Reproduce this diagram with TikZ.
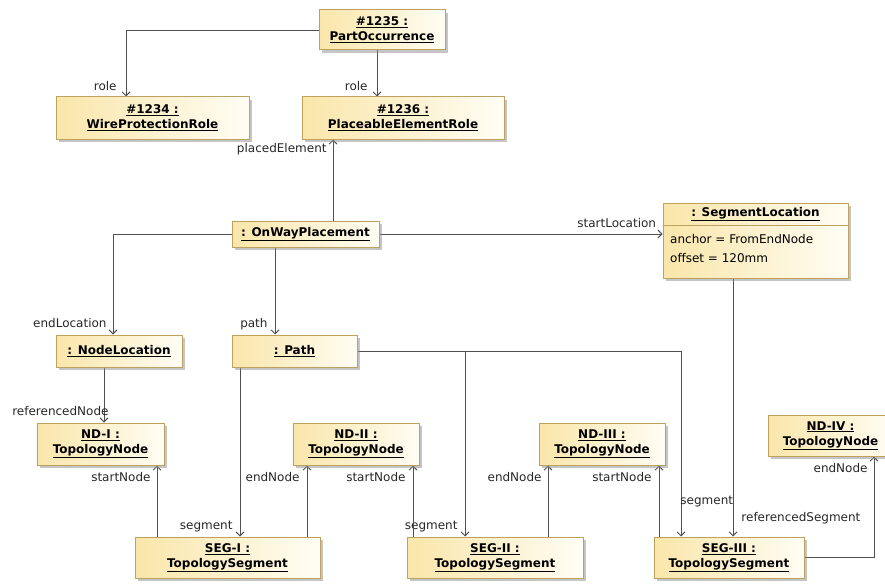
\documentclass[tikz,border=0pt]{standalone}
\usepackage{fontspec}
\setmainfont{DejaVu Sans}
\usepackage{tikz}
\usetikzlibrary{arrows.meta}
\usetikzlibrary{shadows}
\definecolor{cajaborde}{RGB}{190,160,95}
\definecolor{cajafondo}{RGB}{250,230,170}
\definecolor{cajafin}{RGB}{255,253,244}
\definecolor{linea}{RGB}{80,80,80}
\pgfdeclarelayer{lineas_layer}
\pgfsetlayers{lineas_layer,main}
\tikzstyle{objeto}=[draw=cajaborde,line width=1pt,left color=cajafondo,right color=cajafin,drop shadow={shadow xshift=3pt,shadow yshift=-3pt,fill=black!45,opacity=.5},font=\fontsize{12}{15}\selectfont\bfseries,align=center,inner sep=0pt]
\tikzstyle{etiqueta}=[font=\fontsize{12}{14}\selectfont,inner sep=0pt,text=black!85]
\tikzstyle{line}=[draw=linea,line width=0.9pt,-{Straight Barb[length=4pt,width=8pt]}]
\newcommand{\obj}[2]{\underline{#1}\\\underline{#2}}

\begin{document}
\begin{tikzpicture}[x=1pt,y=-1pt]
		\useasboundingbox (0,0) rectangle (885,583);
			\node [style=objeto, minimum width=126pt, minimum height=40pt] (po) at (382,30) {\obj{\#1235 :}{PartOccurrence}};
			\node [style=objeto, minimum width=193pt, minimum height=42pt] (wpr) at (152.5,118) {\obj{\#1234 :}{WireProtectionRole}};
			\node [style=objeto, minimum width=202pt, minimum height=42pt] (per) at (403,118) {\obj{\#1236 :}{PlaceableElementRole}};
			\node [style=objeto, minimum width=147pt, minimum height=26pt] (owp) at (305.5,234) {\underline{: OnWayPlacement}};
			\node [style=objeto, minimum width=185pt, minimum height=75pt] (sl) at (755.5,240.5) {};
			\node [style=etiqueta, font=\fontsize{12}{15}\selectfont\bfseries, text=black] (sl_titulo) at (755.5,214) {\underline{: SegmentLocation}};
			\draw [draw=cajaborde, line width=1pt] (sl.west |- 0,225) -- (sl.east |- 0,225);
			\node [style=etiqueta, anchor=base west, text=black] (sl_anchor) at (670,243) {anchor = FromEndNode};
			\node [style=etiqueta, anchor=base west, text=black] (sl_offset) at (670,262) {offset = 120mm};
			\node [style=objeto, minimum width=126pt, minimum height=32pt] (nl) at (119,351) {\underline{: NodeLocation}};
			\node [style=objeto, minimum width=125pt, minimum height=32pt] (path) at (294.5,351) {\underline{: Path}};
			\node [style=objeto, minimum width=127pt, minimum height=42pt] (nd1) at (100.5,444) {\obj{ND-I :}{TopologyNode}};
			\node [style=objeto, minimum width=126pt, minimum height=42pt] (nd2) at (356,444) {\obj{ND-II :}{TopologyNode}};
			\node [style=objeto, minimum width=126pt, minimum height=42pt] (nd3) at (602,444) {\obj{ND-III :}{TopologyNode}};
			\node [style=objeto, minimum width=125pt, minimum height=41pt] (nd4) at (830.5,435.5) {\obj{ND-IV :}{TopologyNode}};
			\node [style=objeto, minimum width=185pt, minimum height=41pt] (seg1) at (227.5,557.5) {\obj{SEG-I :}{TopologySegment}};
			\node [style=objeto, minimum width=176pt, minimum height=41pt] (seg2) at (495,557.5) {\obj{SEG-II :}{TopologySegment}};
			\node [style=objeto, minimum width=150pt, minimum height=41pt] (seg3) at (729,557.5) {\obj{SEG-III :}{TopologySegment}};
		\begin{pgfonlayer}{lineas_layer}
			 \path [style=line] (po) -| (wpr.north -| 126,0) node [style=etiqueta, pos=1, anchor=base east, xshift=-9pt, yshift=6pt] (lbl_role_wpr) {role};
			 \path [style=line] (po.south -| 377,0) -- (per.north -| 377,0) node [style=etiqueta, pos=1, anchor=base east, xshift=-9pt, yshift=6pt] (lbl_role_per) {role};
			 \path [style=line] (owp.north -| 333,0) -- (per.south -| 333,0) node [style=etiqueta, pos=1, anchor=base east, xshift=-6pt, yshift=-13pt] (lbl_placed) {placedElement};
			 \path [style=line] (owp) -| (nl.north -| 113,0) node [style=etiqueta, pos=1, anchor=base east, xshift=-6pt, yshift=7pt] (lbl_endloc) {endLocation};
			 \path [style=line] (owp) -- (owp -| sl.west) node [style=etiqueta, pos=1, anchor=base east, xshift=-6pt, yshift=7pt] (lbl_startloc) {startLocation};
			 \path [style=line] (owp.south -| 275,0) -- (path.north -| 275,0) node [style=etiqueta, pos=1, anchor=base east, xshift=-7pt, yshift=7pt] (lbl_path) {path};
			 \path [style=line] (nl.south -| 104,0) -- (nd1.north -| 104,0) node [style=etiqueta, pos=1, anchor=base east, xshift=5pt, yshift=7pt] (lbl_refnode) {referencedNode};
			 \path [style=line] (path.south -| 240,0) -- (seg1.north -| 240,0) node [style=etiqueta, pos=1, anchor=base east, xshift=-7pt, yshift=7pt] (lbl_seg1) {segment};
			 \path [style=line] (path) -| (seg2.north -| 465,0) node [style=etiqueta, pos=1, anchor=base east, xshift=-7pt, yshift=7pt] (lbl_seg2) {segment};
			 \path [style=line] (path) -| (seg3.north -| 681,0) node [style=etiqueta, pos=1, anchor=base west, xshift=-1pt, yshift=32pt] (lbl_seg3) {segment};
			 \path [style=line] (seg1.north -| 157,0) -- (nd1.south -| 157,0) node [style=etiqueta, pos=1, anchor=base east, xshift=-6pt, yshift=-16pt] (lbl_start1) {startNode};
			 \path [style=line] (seg1.north -| 307,0) -- (nd2.south -| 307,0) node [style=etiqueta, pos=1, anchor=base east, xshift=-7pt, yshift=-16pt] (lbl_end1) {endNode};
			 \path [style=line] (seg2.north -| 413,0) -- (nd2.south -| 413,0) node [style=etiqueta, pos=1, anchor=base east, xshift=-7pt, yshift=-16pt] (lbl_start2) {startNode};
			 \path [style=line] (seg2.north -| 548,0) -- (nd3.south -| 548,0) node [style=etiqueta, pos=1, anchor=base east, xshift=-6pt, yshift=-16pt] (lbl_end2) {endNode};
			 \path [style=line] (seg3.north -| 659,0) -- (nd3.south -| 659,0) node [style=etiqueta, pos=1, anchor=base east, xshift=-7pt, yshift=-16pt] (lbl_start3) {startNode};
			 \path [style=line] (sl.south -| 733,0) -- (seg3.north -| 733,0) node [style=etiqueta, pos=1, anchor=base west, xshift=8pt, yshift=15pt] (lbl_refseg) {referencedSegment};
			 \path [style=line] (seg3) -| (nd4.south -| 874,0) node [style=etiqueta, pos=1, anchor=base east, xshift=-6pt, yshift=-16pt] (lbl_end3) {endNode};
		\end{pgfonlayer}
		\end{tikzpicture}
\end{document}
